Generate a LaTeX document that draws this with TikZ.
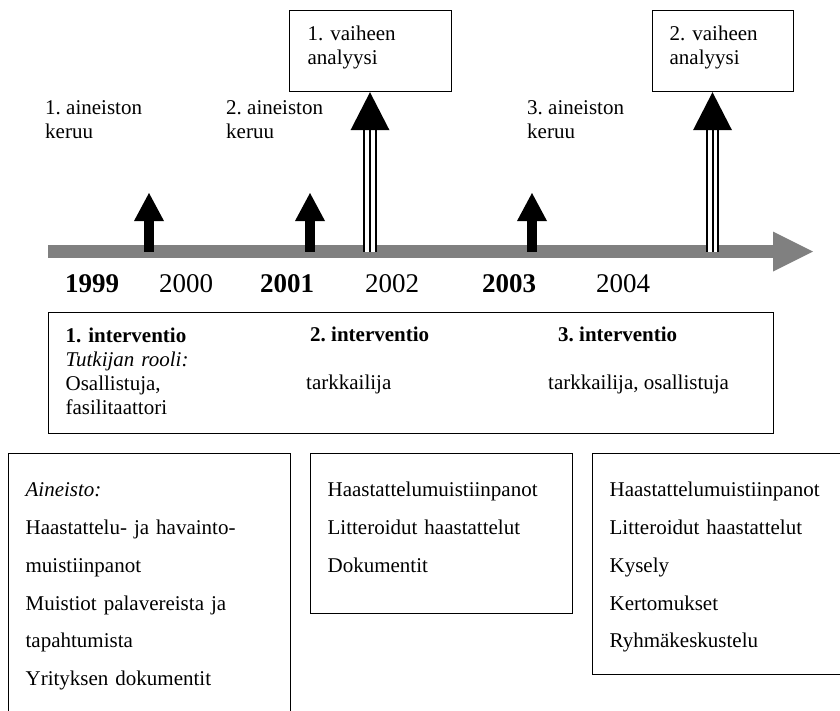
\documentclass[tikz,border=0pt]{standalone}
\usepackage{fontspec}
\setmainfont{Liberation Serif}
\usetikzlibrary{arrows.meta}
\definecolor{bargray}{HTML}{808080}
\frenchspacing
\begin{document}
\begin{tikzpicture}[x=1pt,y=-1pt,
        every node/.style={inner sep=0pt,font=\fontsize{21}{24}\selectfont},
        txt/.style={anchor=base west,align=left},
        year/.style={anchor=base,font=\fontsize{27}{30}\selectfont},
        box/.style={draw,line width=1.2pt,anchor=north west,align=left,inner xsep=17pt,inner ysep=0pt},
        listbox/.style={box,font=\fontsize{21}{37.8}\selectfont,text height=43pt},
        keruu/.style={line width=10pt,-{Triangle[length=28pt,width=30pt,line width=0pt]}},
        analyysi/.style={line width=2pt,-{Triangle[length=38pt,width=39pt,line width=0pt]},
            preaction={draw,arrows=-,line width=13.5pt,shorten >=36pt},
            preaction={draw,arrows=-,white,line width=9.5pt,shorten >=36pt}}]
        \useasboundingbox (0,0) rectangle (840,710);
        \clip (0,0) rectangle (840,710);

        % aikajana
        \coordinate (t0) at (48,251.5);
        \coordinate (t1) at (813,251.5);
        \draw[bargray,line width=13pt,-{Triangle[length=40pt,width=40pt,line width=0pt]}] (t0) -- (t1);

        % analyysivaiheet
        \node[box,text width=126pt,inner xsep=18pt,text height=29.5pt,text depth=51.5pt] at (289,10) (ana1) {1. vaiheen\\analyysi};
        \node[box,text width=107pt,text height=29.5pt,text depth=51.5pt] at (652,10) (ana2) {2. vaiheen\\analyysi};

        % aineiston keruu
        \node[txt] at (45,138) (ker1) {1. aineiston\\keruu};
        \node[txt] at (226,138) (ker2) {2. aineiston\\keruu};
        \node[txt] at (527,138) (ker3) {3. aineiston\\keruu};

        \coordinate (b1) at (149,251.5);  \coordinate (k1) at (149,193);
        \coordinate (b2) at (310,251.5);  \coordinate (k2) at (310,193);
        \coordinate (b3) at (532,251.5);  \coordinate (k3) at (532,193);
        \draw[keruu] (b1) -- (k1);
        \draw[keruu] (b2) -- (k2);
        \draw[keruu] (b3) -- (k3);

        \coordinate (b4) at (370,251.5);
        \coordinate (b5) at (712.5,251.5);
        \draw[analyysi] (b4) -- (b4 |- ana1.south);
        \draw[analyysi] (b5) -- (b5 |- ana2.south);

        % vuodet
        \node[year] at (92,292) (y99) {\textbf{1999}};
        \node[year] at (186,292) (y00) {2000};
        \node[year] at (287,292) (y01) {\textbf{2001}};
        \node[year] at (392,292) (y02) {2002};
        \node[year] at (509,292) (y03) {\textbf{2003}};
        \node[year] at (623,292) (y04) {2004};

        % interventiot
        \node[box,text width=691pt,text height=29.5pt,text depth=91.5pt] at (48,312) (intv)
            {\textbf{1. interventio}\\\textit{Tutkijan rooli:}\\Osallistuja,\\fasilitaattori};
        \node[txt] at (310,341.5) (int2) {\textbf{2. interventio}};
        \node[txt] at (306,389.5) (rol2) {tarkkailija};
        \node[txt] at (558,341.5) (int3) {\textbf{3. interventio}};
        \node[txt] at (548,389.5) (rol3) {tarkkailija, osallistuja};

        % aineistot
        \node[listbox,text width=248pt,text depth=400pt] at (8,453) (dataA)
            {\textit{Aineisto:}\\Haastattelu- ja havainto-\\muistiinpanot\\Muistiot palavereista ja\\tapahtumista\\Yrityksen dokumentit};
        \node[listbox,text width=228pt,text depth=117pt] at (310,453) (dataB)
            {Haastattelumuistiinpanot\\Litteroidut haastattelut\\Dokumentit};
        \node[listbox,text width=236pt,text depth=178pt] at (592,453) (dataC)
            {Haastattelumuistiinpanot\\Litteroidut haastattelut\\Kysely\\Kertomukset\\Ryhmäkeskustelu};
    \end{tikzpicture}
\end{document}
